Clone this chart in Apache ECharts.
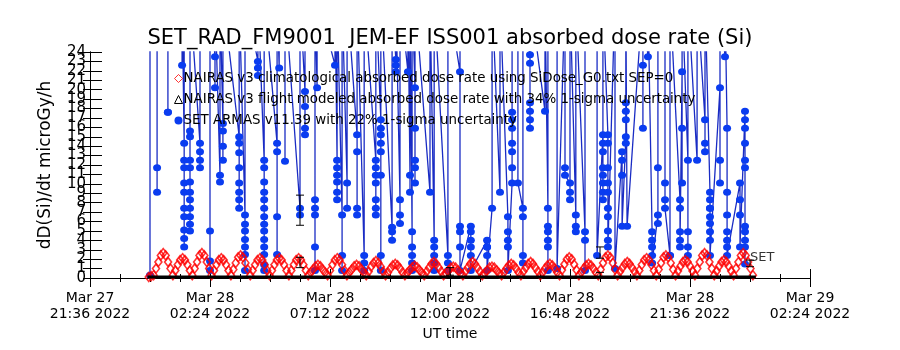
<!DOCTYPE html>
<html>
<head>
<meta charset="utf-8">
<script src="https://cdn.jsdelivr.net/npm/echarts@6/dist/echarts.min.js"></script>
<style>
  html, body { margin: 0; padding: 0; background: #fff; }
  #main { width: 900px; height: 350px; }
</style>
</head>
<body>
<div id="main"></div>
<script>
// x values are minutes after 2022-03-27 21:36 UT
var T0 = Date.UTC(2022, 2, 27, 21, 36);
var xTicks = [0, 288, 576, 864, 1152, 1440, 1728];

// NAIRAS climatological, one sample every redStep minutes from redStart
var redStart = 141;
var redStep = 5.8;
var climDose = [
  0.1, 0.2,
  0.3, 1.0, 1.7, 2.4, 2.65, 2.4, 1.7, 1.0,
  0.3, 0.8, 1.4, 1.9, 2.1, 1.9, 1.4, 0.8,
  0.3, 1.0, 1.7, 2.4, 2.65, 2.4, 1.7, 1.0,
  0.3, 0.8, 1.4, 1.9, 2.1, 1.9, 1.4, 0.8,
  0.3, 0.9, 1.6, 2.2, 2.4, 2.2, 1.6, 0.9,
  0.3, 0.8, 1.4, 1.9, 2.1, 1.9, 1.4, 0.8,
  0.3, 0.8, 1.4, 1.9, 2.1, 1.9, 1.4, 0.8,
  0.3, 0.8, 1.4, 1.9, 2.1, 1.9, 1.4, 0.8,
  0.3, 0.6, 0.9, 1.25, 1.4, 1.25, 0.9, 0.6,
  0.3, 0.8, 1.4, 1.9, 2.1, 1.9, 1.4, 0.8,
  0.3, 0.6, 0.9, 1.25, 1.4, 1.25, 0.9, 0.6,
  0.3, 0.7, 1.2, 1.6, 1.8, 1.6, 1.2, 0.7,
  0.3, 0.6, 1.0, 1.35, 1.5, 1.35, 1.0, 0.6,
  0.3, 0.55, 0.85, 1.15, 1.3, 1.15, 0.85, 0.55,
  0.3, 0.7, 1.1, 1.5, 1.7, 1.5, 1.1, 0.7,
  0.3, 0.5, 0.8, 1.1, 1.2, 1.1, 0.8, 0.5,
  0.3, 0.7, 1.1, 1.5, 1.7, 1.5, 1.1, 0.7,
  0.3, 0.5, 0.8, 1.1, 1.2, 1.1, 0.8, 0.5,
  0.3, 0.6, 1.0, 1.35, 1.5, 1.35, 1.0, 0.6,
  0.3, 0.7, 1.1, 1.5, 1.7, 1.5, 1.1, 0.7,
  0.3, 0.6, 1.0, 1.35, 1.5, 1.35, 1.0, 0.6,
  0.3, 0.85, 1.45, 2.0, 2.2, 2.0, 1.45, 0.85,
  0.3, 0.6, 1.0, 1.35, 1.5, 1.35, 1.0, 0.6,
  0.3, 0.9, 1.6, 2.2, 2.4, 2.2, 1.6, 0.9,
  0.3, 0.7, 1.1, 1.5, 1.7, 1.5, 1.1, 0.7,
  0.3, 0.8, 1.4, 1.9, 2.1, 1.9, 1.4, 0.8,
  0.3, 0.9, 1.6, 2.2, 2.4, 2.2, 1.6, 0.9,
  0.3, 0.75, 1.25, 1.7, 1.9, 1.7, 1.25, 0.75,
  0.3, 1.0, 1.7, 2.4, 2.65, 2.4, 1.7, 1.0,
  0.3, 0.75, 1.25, 1.7, 1.9, 1.7, 1.25, 0.75,
  0.3, 1.0, 1.7, 2.4, 2.65, 2.4, 1.7, 1.0,
  0.3
];

// NAIRAS flight modeled
var flightMin = [138, 198, 258, 318, 378, 438, 498, 558, 618, 678, 738, 798, 858,
  918, 978, 1038, 1098, 1158, 1218, 1278, 1338, 1398, 1458, 1518, 1578, 1598];
var flightDose = [0.1, 0.1, 0.1, 0.1, 0.1, 0.1, 0.1, 0.1, 0.1, 0.1, 0.1, 0.1, 0.1,
  0.1, 0.1, 0.1, 0.1, 0.1, 0.1, 0.1, 0.1, 0.1, 0.1, 0.1, 0.1, 0.1];

// SET ARMAS, grouped by minute: [minute, [dose values in time order]]
var armasCols = [
  [144, [0.3, 30]],
  [161, [30, 11.7, 9.1, 30]],
  [187, [30, 17.6, 17.6, 30]],
  [221, [30, 22.6, 30]],
  [226, [14.3, 12.5, 11.7, 10.1, 9.1, 7.4, 6.5, 5.1, 4.2, 3.3, 30]],
  [240, [30, 15.6, 15.0, 12.5, 11.7, 10.2, 9.1, 8.3, 7.4, 6.5, 5.7, 5.0, 30]],
  [264, [14.3, 13.4, 12.5, 11.7, 30]],
  [288, [30, 5.0, 1.8, 0.8, 30]],
  [300, [23.5, 20.2, 30]],
  [312, [10.9, 10.2, 30]],
  [319, [16.4, 15.6, 14.0, 12.5, 30]],
  [358, [15.0, 14.3, 13.3, 11.7, 10.1, 9.1, 8.3, 7.4, 30]],
  [372, [6.7, 5.7, 5.0, 4.1, 3.3, 2.5, 0.8, 30]],
  [403, [23.0, 22.3, 21.5, 30]],
  [418, [12.5, 11.7, 10.2, 9.1, 8.3, 7.4, 6.5, 5.7, 5.0, 4.1, 3.3, 2.5, 1.4, 0.8, 30]],
  [449, [14.3, 13.4, 30, 6.5, 2.5, 30]],
  [454, [22.3, 30]],
  [468, [30, 12.4, 30]],
  [504, [7.4, 6.7, 30]],
  [516, [19.8, 18.2, 15.9, 15.2, 30]],
  [540, [30, 8.3, 7.4, 6.7, 3.3, 0.8, 30]],
  [545, [20.2, 30]],
  [588, [22.6, 30]],
  [593, [12.5, 11.7, 10.9, 10.2, 9.1, 8.3, 30]],
  [605, [6.7, 2.4, 0.8, 30]],
  [617, [10.1, 7.4, 30]],
  [641, [15.2, 13.4, 7.4, 6.7, 30]],
  [658, [2.4, 1.6, 0.8, 30]],
  [686, [12.5, 11.7, 10.9, 10.1, 8.3, 7.4, 6.7, 30]],
  [698, [16.8, 15.9, 15.2, 14.3, 13.4, 10.9, 2.4, 0.8, 30]],
  [725, [5.4, 4.9, 4.0, 30]],
  [734, [23.2, 22.6, 21.9, 30]],
  [744, [8.3, 6.7, 5.8, 30]],
  [763, [21.9, 30]],
  [768, [10.9, 9.1, 30]],
  [773, [4.9, 3.3, 2.4, 1.6, 0.8, 30]],
  [780, [20.2, 15.9, 12.5, 11.7, 10.1, 30]],
  [816, [9.1, 30]],
  [826, [4.0, 3.3, 2.4, 1.6, 0.8, 30]],
  [859, [2.4, 1.6, 0.8, 30]],
  [888, [21.9, 30, 5.5, 4.9, 3.3, 0.8]],
  [914, [5.5, 4.9, 4.0, 3.3, 2.4, 0.8]],
  [953, [4.0, 3.3, 2.4, 3.3, 0.8]],
  [965, [7.4, 30]],
  [984, [9.1, 30]],
  [1003, [6.5, 4.9, 4.0, 3.3, 0.8]],
  [1013, [10.1, 11.7, 13.4, 14.3, 15.9, 16.8, 17.6, 30]],
  [1027, [30, 10.1]],
  [1039, [7.4, 6.5, 2.4, 1.6, 30]],
  [1056, [23.7, 22.8, 18.6, 17.7, 16.8, 15.9, 30]],
  [1092, [17.7, 30]],
  [1099, [7.4, 5.5, 4.9, 4.0, 3.3, 0.8, 30]],
  [1121, [30, 1.0]],
  [1140, [30, 11.7, 10.9]],
  [1152, [10.1, 9.1, 8.3, 30]],
  [1166, [6.7, 5.5, 4.9, 30]],
  [1188, [4.9, 4.0, 0.8, 30]],
  [1217, [30, 2.4]],
  [1231, [15.2, 14.3, 13.4, 11.7, 10.9, 10.1, 9.1, 8.3, 30]],
  [1243, [15.2, 14.3, 11.7, 10.1, 9.1, 7.4, 6.5, 5.0, 4.0, 3.3]],
  [1260, [30, 1.0]],
  [1277, [13.4, 12.5, 10.9, 5.5]],
  [1286, [15.0, 14.3, 18.6, 17.7, 16.8, 30]],
  [1289, [30, 5.5]],
  [1327, [30, 22.6, 15.9, 30]],
  [1339, [23.5, 30]],
  [1349, [4.9, 4.0, 3.3, 2.4, 1.6]],
  [1363, [6.7, 5.8, 11.7, 30]],
  [1380, [30, 10.1, 8.3, 7.4]],
  [1392, [2.4, 2.4, 30]],
  [1416, [8.3, 7.4, 4.9, 4.0, 3.3]],
  [1421, [21.9, 15.9, 10.1, 30]],
  [1435, [12.5, 4.9, 3.3, 2.4, 30]],
  [1457, [12.5, 30]],
  [1476, [16.8, 14.3, 13.4, 30]],
  [1488, [9.1, 8.3, 7.4, 7.4, 6.5, 5.8, 4.9, 4.0, 2.4]],
  [1512, [20.2, 12.5, 10.1, 30]],
  [1524, [23.5, 30]],
  [1529, [15.9, 9.1, 6.7, 4.9, 4.0, 3.3, 2.4]],
  [1560, [10.1, 8.3, 6.7, 3.3]],
  [1572, [17.7, 16.8, 15.9, 14.3, 12.5, 11.7, 5.5, 4.9, 4.0, 3.3, 1.5]]
];

// 1-sigma bars drawn every 6 h
var errMin = [504, 504, 864, 1224, 1224, 1584];
var errLow = [5.6, 1.1, 0.3, 2.1, 0.0, 1.2];
var errHigh = [8.8, 2.2, 1.1, 3.3, 0.6, 1.9];

var names = [
  'NAIRAS v3 climatological absorbed dose rate using SiDose_G0.txt SEP=0',
  'NAIRAS v3 flight modeled absorbed dose rate with 34% 1-sigma uncertainty',
  'SET ARMAS v11.39 with 22% 1-sigma uncertainty'
];

var MON = ['Jan','Feb','Mar','Apr','May','Jun','Jul','Aug','Sep','Oct','Nov','Dec'];
function pad(n) { return (n < 10 ? '0' : '') + n; }
function fmtTime(v) {
  var d = new Date(T0 + v * 60000);
  return MON[d.getUTCMonth()] + ' ' + d.getUTCDate() + '\n' +
    pad(d.getUTCHours()) + ':' + pad(d.getUTCMinutes()) + ' ' + d.getUTCFullYear();
}

var climData = climDose.map(function (v, i) { return [redStart + i * redStep, v]; });
var flightData = flightMin.map(function (m, i) { return [m, flightDose[i]]; });
var armasData = [];
armasCols.forEach(function (c) {
  c[1].forEach(function (v) { armasData.push([c[0], v]); });
});
var errData = errMin.map(function (m, i) { return [m, errLow[i], errHigh[i]]; });

var FONT = 'DejaVu Sans';
var chart = echarts.init(document.getElementById('main'), null, { renderer: 'canvas' });

// y labels sit 9 px apart, so even and odd labels go on two stacked axes
function yAxisLabels(keepOdd) {
  return {
    show: true,
    fontFamily: FONT, fontSize: 15, color: '#000', margin: 4,
    showMinLabel: true, showMaxLabel: true,
    formatter: function (v) { return (v % 2 === 1) === keepOdd ? String(v) : ''; }
  };
}

var option = {
  backgroundColor: '#fff',
  animation: false,
  textStyle: { fontFamily: FONT, color: '#000' },
  title: {
    text: 'SET_RAD_FM9001  JEM-EF ISS001 absorbed dose rate (Si)',
    left: 'center',
    top: 23,
    textStyle: { fontFamily: FONT, fontSize: 21, fontWeight: 'normal', color: '#000' }
  },
  legend: {
    orient: 'vertical',
    left: 169,
    top: 67,
    itemGap: 8,
    itemWidth: 8,
    itemHeight: 8,
    selectedMode: false,
    textStyle: { fontFamily: FONT, fontSize: 13.4, color: '#000', padding: [0, 0, 0, -4] },
    data: [
      { name: names[0], icon: 'diamond', itemStyle: { color: 'rgba(0,0,0,0)', borderColor: '#ff0000', borderWidth: 1 } },
      { name: names[1], icon: 'triangle', itemStyle: { color: 'rgba(0,0,0,0)', borderColor: '#000', borderWidth: 1 } },
      { name: names[2], icon: 'circle', itemStyle: { color: '#0a3cf0' } }
    ]
  },
  grid: { left: 90, right: 90, top: 52, bottom: 72, containLabel: false },
  xAxis: [
    {
      type: 'value', min: 0, max: 1728, interval: 288, position: 'bottom',
      name: 'UT time', nameLocation: 'middle', nameGap: 49,
      nameTextStyle: { fontFamily: FONT, fontSize: 14, color: '#000' },
      axisLine: { lineStyle: { color: '#000', width: 1 } },
      axisTick: { inside: true, length: 9, lineStyle: { color: '#000' } },
      minorTick: { show: true, splitNumber: 4, length: 4, lineStyle: { color: '#000' } },
      axisLabel: { formatter: fmtTime, fontFamily: FONT, fontSize: 14, lineHeight: 16, color: '#000', margin: 12 },
      splitLine: { show: false }
    },
    {
      type: 'value', min: 0, max: 1728, interval: 288, position: 'top',
      axisLine: { lineStyle: { color: '#000', width: 1 } },
      axisTick: { inside: true, length: 9, lineStyle: { color: '#000' } },
      minorTick: { show: true, splitNumber: 4, length: 4, lineStyle: { color: '#000' } },
      axisLabel: { show: false },
      splitLine: { show: false }
    }
  ],
  yAxis: [
    {
      type: 'value', min: 0, max: 24, interval: 1, position: 'left',
      name: 'dD(Si)/dt microGy/h', nameLocation: 'middle', nameGap: 36,
      nameTextStyle: { fontFamily: FONT, fontSize: 17, color: '#000' },
      axisLine: { lineStyle: { color: '#000', width: 1 } },
      axisTick: { inside: true, length: 12, lineStyle: { color: '#000' } },
      axisLabel: yAxisLabels(false),
      splitLine: { show: false }
    },
    {
      type: 'value', min: 0, max: 24, interval: 1, position: 'right',
      axisLine: { lineStyle: { color: '#000', width: 1 } },
      axisTick: { inside: true, length: 7, lineStyle: { color: '#000' } },
      axisLabel: { show: false },
      splitLine: { show: false }
    },
    {
      type: 'value', min: 0, max: 24, interval: 1, position: 'left', offset: 0,
      axisLine: { show: false },
      axisTick: { show: false },
      axisLabel: yAxisLabels(true),
      splitLine: { show: false }
    }
  ],
  series: [
    {
      name: names[2],
      type: 'line',
      data: armasData,
      symbol: 'circle',
      symbolSize: [8, 7],
      showAllSymbol: true,
      lineStyle: { color: '#1a2cc4', width: 1.3 },
      itemStyle: { color: '#0a3cf0' },
      clip: true,
      z: 2
    },
    {
      name: names[0],
      type: 'scatter',
      data: climData,
      symbol: 'diamond',
      symbolSize: [7, 9],
      itemStyle: { color: 'rgba(0,0,0,0)', borderColor: '#ff0000', borderWidth: 1.6 },
      z: 3
    },
    {
      name: names[1],
      type: 'line',
      data: flightData,
      showSymbol: false,
      lineStyle: { color: '#000', width: 3 },
      z: 4
    },
    {
      name: 'bars',
      type: 'custom',
      data: errData,
      renderItem: function (params, api) {
        var lo = api.coord([api.value(0), api.value(1)]);
        var hi = api.coord([api.value(0), api.value(2)]);
        var w = 4;
        var st = { stroke: '#000', lineWidth: 1 };
        return {
          type: 'group',
          children: [
            { type: 'line', shape: { x1: lo[0], y1: lo[1], x2: hi[0], y2: hi[1] }, style: st },
            { type: 'line', shape: { x1: lo[0] - w, y1: lo[1], x2: lo[0] + w, y2: lo[1] }, style: st },
            { type: 'line', shape: { x1: hi[0] - w, y1: hi[1], x2: hi[0] + w, y2: hi[1] }, style: st }
          ]
        };
      },
      z: 5
    },
    {
      name: 'setLabel',
      type: 'scatter',
      data: [[1584, 2.2]],
      symbolSize: 0,
      label: { show: true, position: 'right', distance: 0, formatter: 'SET', fontFamily: FONT, fontSize: 13, color: '#000' },
      z: 6
    }
  ]
};

chart.setOption(option);
</script>
</body>
</html>
